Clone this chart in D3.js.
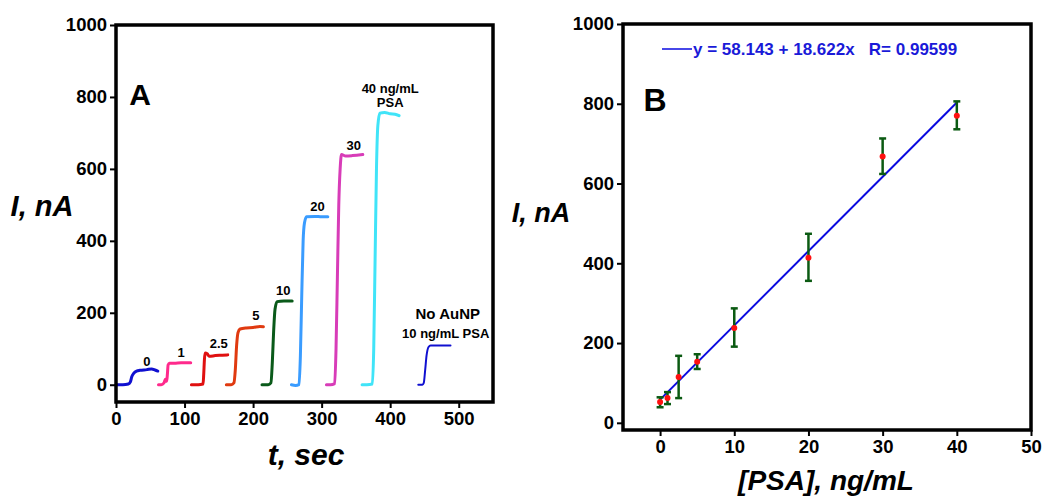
<!DOCTYPE html>
<html><head><meta charset="utf-8">
<script src="https://cdn.jsdelivr.net/npm/d3@7"></script>
<style>
body{margin:0;background:#fff;}
svg{display:block;font-family:"Liberation Sans",Arial,sans-serif;}
</style></head>
<body><svg id="c" width="1050" height="504"></svg>
<script>
// ---------- Panel A data (time in s, current in nA) ----------
const traceNames = ["0","1","2.5","5","10","20","30","40","NoAuNP"];
const traceColors = ["#1010d0","#ff2a8c","#e01010","#e03a10","#0a5a1a","#3a9cff","#d83cb8","#40e4f8","#1010d0"];
const traceT = [
  [0,10,18,21,23,26,30,35,45,52,57,61],
  [62,66,70,72,74,75,76,78,85,95,109],
  [110,120,127,128,129,130,133,136,145,155,163],
  [161,168,172,174,176,178,181,190,200,210,215],
  [213,222,226,228,230,232,235,245,257],
  [256,262,267,269,271,273,275,278,290,300,309],
  [307,313,319,321,323,325,327,329,335,345,360],
  [359,366,374,376,378,380,382,385,392,400,407,413],
  [441,447,449,451,453,456,459,470,488]
];
const traceI = [
  [0,0,2,8,22,32,38,40,42,44,41,38],
  [0,0,5,15,10,30,55,60,60,61,61],
  [0,0,2,30,70,88,86,79,81,82,83],
  [0,0,5,40,110,145,155,158,159,162,161],
  [0,0,5,60,150,210,231,233,233],
  [0,-2,0,80,250,400,450,467,468,467,467],
  [0,0,3,100,300,500,600,640,636,637,640],
  [0,0,2,100,350,600,720,755,757,753,752,748],
  [0,0,5,40,80,105,109,109,109]
];
const labelTexts = ["0","1","2.5","5","10","20","30","40 ng/mL","PSA","No AuNP","10 ng/mL PSA"];
const labelT = [45,95,150,204,244,294,347,400,400,484,481];
const labelI = [53,78,103,181,250,483,653,811,772,183,130];
const labelSize = [13,13,13,13,13,13,13,13,13,15,13];
const xTicksA = [0,100,200,300,400,500];
const yTicksA = [0,200,400,600,800,1000];

// ---------- Panel B data ----------
const conc = [0,1,2.5,5,10,20,30,40];
const meanI = [52,62,115,153,238,414,668,770];
const errHi = [64,77,168,172,287,474,713,806];
const errLo = [39,47,62,135,191,356,624,736];
const fitIntercept = 58.143, fitSlope = 18.622;
const fitRange = [0,40];
const legendText = "y = 58.143 + 18.622x   R= 0.99599";
const xTicksB = [0,10,20,30,40,50];
const yTicksB = [0,200,400,600,800,1000];

const svg = d3.select("#c");

function frame(g, x, y, xt, yt){
  const [x0,x1] = x.range(), [y0,y1] = y.range();
  const ax = g.append("g").attr("transform",`translate(0,${y0})`)
    .call(d3.axisBottom(x).tickValues(xt).tickFormat(d3.format("d")).tickSize(6).tickSizeOuter(0).tickPadding(4));
  const ay = g.append("g").attr("transform",`translate(${x0},0)`)
    .call(d3.axisLeft(y).tickValues(yt).tickFormat(d3.format("d")).tickSize(6).tickSizeOuter(0).tickPadding(3));
  [ax,ay].forEach(a=>{
    a.select(".domain").remove();
    a.selectAll(".tick line").attr("stroke","#000").attr("stroke-width",2);
    a.selectAll(".tick text").attr("font-size",18.5).attr("font-weight","bold")
      .attr("font-family","'Liberation Sans',Arial,sans-serif").attr("fill","#000");
  });
  g.append("rect").attr("x",x0).attr("y",y1).attr("width",x1-x0).attr("height",y0-y1)
    .attr("fill","none").attr("stroke","#000").attr("stroke-width",3.5);
}

// ---------- Panel A ----------
const xA = d3.scaleLinear().domain([0,550]).range([116,493]);
const yA = d3.scaleLinear().domain([-48,1000]).range([402,25]);
const gA = svg.append("g");
const lineA = d3.line().x(d=>xA(d[0])).y(d=>yA(d[1])).curve(d3.curveMonotoneX);
traceT.forEach((ts,i)=>{
  const pts = ts.map((t,j)=>[t,traceI[i][j]]);
  gA.append("path").attr("d",lineA(pts)).attr("fill","none")
    .attr("stroke",traceColors[i]).attr("stroke-width",i===8?2:3)
    .attr("stroke-linejoin","round").attr("stroke-linecap","round");
});
frame(gA,xA,yA,xTicksA,yTicksA);
labelTexts.forEach((t,i)=>{
  gA.append("text").attr("x",xA(labelT[i])).attr("y",yA(labelI[i]))
    .attr("text-anchor","middle").attr("font-size",labelSize[i]).attr("font-weight","bold").text(t);
});
gA.append("text").attr("x",140).attr("y",105).attr("text-anchor","middle")
  .attr("font-size",30).attr("font-weight","bold").text("A");
gA.append("text").attr("x",42).attr("y",216).attr("text-anchor","middle")
  .attr("font-size",29).attr("font-weight","bold").attr("font-style","italic").text("I, nA");
gA.append("text").attr("x",306).attr("y",465).attr("text-anchor","middle")
  .attr("font-size",30).attr("font-weight","bold").attr("font-style","italic").text("t, sec");

// ---------- Panel B ----------
const xB = d3.scaleLinear().domain([-5,50]).range([623,1031]);
const yB = d3.scaleLinear().domain([-18,1000]).range([430,24]);
const gB = svg.append("g");
gB.append("line").attr("x1",xB(fitRange[0])).attr("y1",yB(fitIntercept+fitSlope*fitRange[0]))
  .attr("x2",xB(fitRange[1])).attr("y2",yB(fitIntercept+fitSlope*fitRange[1]))
  .attr("stroke","#0a0ae0").attr("stroke-width",2);
conc.forEach((c,i)=>{
  const x = xB(c);
  gB.append("line").attr("x1",x).attr("x2",x).attr("y1",yB(errLo[i])).attr("y2",yB(errHi[i]))
    .attr("stroke","#0b5a12").attr("stroke-width",2.5);
  [errLo[i],errHi[i]].forEach(v=>gB.append("line").attr("x1",x-3.5).attr("x2",x+3.5)
    .attr("y1",yB(v)).attr("y2",yB(v)).attr("stroke","#0b5a12").attr("stroke-width",2.5));
  gB.append("circle").attr("cx",x).attr("cy",yB(meanI[i])).attr("r",3).attr("fill","#ff1010");
});
frame(gB,xB,yB,xTicksB,yTicksB);
gB.append("line").attr("x1",662).attr("x2",692).attr("y1",49).attr("y2",49)
  .attr("stroke","#0a0ae0").attr("stroke-width",1.5);
gB.append("text").attr("x",693).attr("y",55).attr("font-size",17).attr("font-weight","bold")
  .attr("fill","#1a1ad8").attr("xml:space","preserve").style("white-space","pre").text(legendText);
gB.append("text").attr("x",655).attr("y",111).attr("text-anchor","middle")
  .attr("font-size",32).attr("font-weight","bold").text("B");
gB.append("text").attr("x",541).attr("y",222).attr("text-anchor","middle")
  .attr("font-size",27).attr("font-weight","bold").attr("font-style","italic").text("I, nA");
gB.append("text").attr("x",826).attr("y",490).attr("text-anchor","middle")
  .attr("font-size",28).attr("font-weight","bold").attr("font-style","italic").text("[PSA], ng/mL");
</script></body></html>
